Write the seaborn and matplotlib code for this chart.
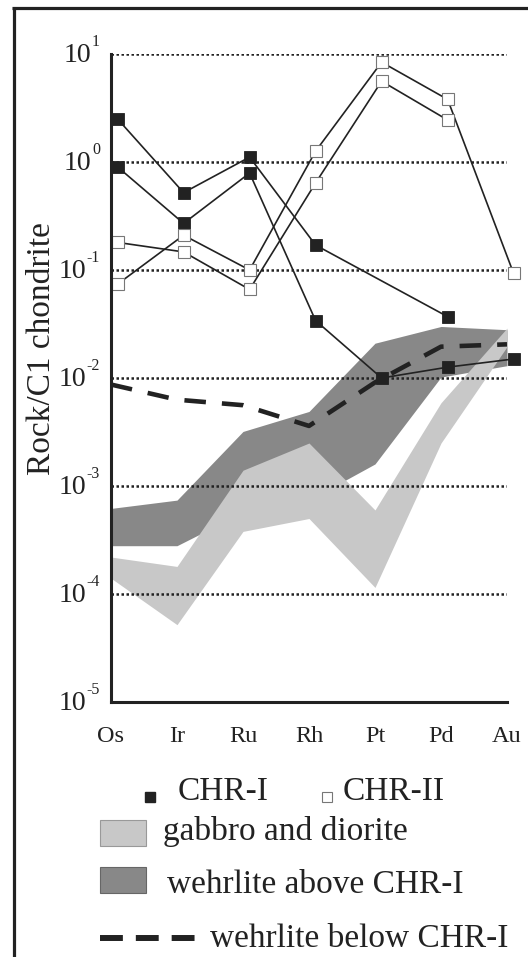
import matplotlib
matplotlib.use("Agg")
import matplotlib.pyplot as plt
from matplotlib.patches import Rectangle
import numpy as np
import pandas as pd
import seaborn as sns

# PGE values normalised to C1 chondrite
ELEMENTS = ["Os", "Ir", "Ru", "Rh", "Pt", "Pd", "Au"]

chr1_a = [2.5, 0.52, 1.11, 0.17, np.nan, 0.037, np.nan]
chr1_b = [0.9, 0.27, 0.79, 0.034, 0.010, 0.0126, 0.015]
chr2_a = [0.074, 0.21, 0.10, 1.26, 8.4, 3.8, 0.093]
chr2_b = [0.18, 0.147, 0.066, 0.64, 5.6, 2.45, np.nan]

wehrlite_below = [0.0087, 0.0063, 0.0056, 0.0036, 0.0091, 0.0195, 0.0205]

gabbro_low = [1.4e-4, 5.2e-5, 3.8e-4, 5.0e-4, 1.15e-4, 2.5e-3, 0.0195]
gabbro_high = [2.2e-4, 1.8e-4, 1.4e-3, 2.5e-3, 6.0e-4, 5.9e-3, 0.029]
wehrlite_low = [2.8e-4, 2.8e-4, 5.7e-4, 7.4e-4, 1.6e-3, 0.0102, 0.013]
wehrlite_high = [6.2e-4, 7.4e-4, 3.2e-3, 4.9e-3, 0.021, 0.030, 0.028]

DECADES = [-5, -4, -3, -2, -1, 0, 1]

INK = "#222222"
LIGHT = "#c8c8c8"
DARK = "#888888"
W, H = 528, 957


def long_frame(series, offset):
    rows = []
    for name, values in series.items():
        for i, v in enumerate(values):
            rows.append({"pos": i + offset, "value": v, "sample": name})
    return pd.DataFrame(rows).dropna()


sns.set_theme(style="white")
plt.rcParams["font.family"] = ["Liberation Serif", "DejaVu Serif"]

fig = plt.figure(figsize=(W / 100, H / 100), dpi=100)
ax = fig.add_axes([111 / W, 1 - 702 / H, 396 / W, 648 / H])

pos = np.arange(len(ELEMENTS))
ax.fill_between(pos, wehrlite_low, wehrlite_high, color=DARK, lw=0, zorder=1)
ax.fill_between(pos, gabbro_low, gabbro_high, color=LIGHT, lw=0, zorder=1.1)

sns.lineplot(x=pos, y=wehrlite_below, color=INK, lw=3.3,
             linestyle=(0, (4.7, 3.5)), ax=ax, zorder=3)

chr1 = long_frame({"a": chr1_a, "b": chr1_b}, 0.1)
chr2 = long_frame({"a": chr2_a, "b": chr2_b}, 0.1)
sns.lineplot(data=chr1, x="pos", y="value", units="sample", estimator=None,
             color=INK, lw=1.2, marker="s", markersize=8,
             markerfacecolor=INK, markeredgecolor=INK, markeredgewidth=0.6,
             ax=ax, zorder=4, clip_on=False)
sns.lineplot(data=chr2, x="pos", y="value", units="sample", estimator=None,
             color=INK, lw=1.2, marker="s", markersize=8,
             markerfacecolor="white", markeredgecolor="#777777", markeredgewidth=0.8,
             ax=ax, zorder=4, clip_on=False)

ax.set_yscale("log")
ax.set_ylim(1e-5, 10)
ax.set_xlim(0, 6)
ax.set_yticks([10.0 ** d for d in DECADES])
ax.set_yticklabels([""] * len(DECADES))
ax.yaxis.set_minor_locator(matplotlib.ticker.NullLocator())
ax.set_xticks(pos)
ax.set_xticklabels(ELEMENTS)
ax.set_xlabel("")
ax.set_ylabel("")

ax.set_axisbelow(False)
ax.grid(axis="y", color=INK, lw=1.8, linestyle=(0, (1, 1.0)))
ax.grid(axis="x", visible=False)
for side in ["top", "right"]:
    ax.spines[side].set_visible(False)
for side in ["left", "bottom"]:
    ax.spines[side].set_color(INK)
    ax.spines[side].set_linewidth(2.2)
    ax.spines[side].set_zorder(5)
ax.tick_params(axis="y", direction="out", length=4.3, width=0.8, color="#888888")
ax.tick_params(axis="x", direction="out", length=4, width=0.8, color="#888888",
               labelsize=17.5, labelcolor=INK, pad=13)
ax.patch.set_visible(False)

# "10" with a small raised exponent, right edge of the exponent near x=100px
fig.canvas.draw()
renderer = fig.canvas.get_renderer()
for d in DECADES:
    exp = ax.annotate(str(d), xy=(0, 10.0 ** d),
                      xycoords=("axes fraction", "data"),
                      xytext=(-11, 12), textcoords="offset pixels",
                      ha="right", va="center", fontsize=11.5, color=INK)
    ew = exp.get_window_extent(renderer).width
    ax.annotate("10", xy=(0, 10.0 ** d), xycoords=("axes fraction", "data"),
                xytext=(-11.5 - ew, -2), textcoords="offset pixels",
                ha="right", va="center", fontsize=20, color=INK)

fig.text(42 / W, 1 - 349 / H, "Rock/C1 chondrite", rotation=90,
         ha="center", va="center", fontsize=24, color=INK)

# overlay in pixel coordinates for the frame and the legend
ov = fig.add_axes([0, 0, 1, 1])
ov.set_xlim(0, W)
ov.set_ylim(H, 0)
ov.axis("off")
ov.patch.set_visible(False)

ov.plot([12, W], [7.5, 7.5], color=INK, lw=2.3, solid_capstyle="butt")
ov.plot([13.5, 13.5], [6.5, H], color=INK, lw=2.3, solid_capstyle="butt")

ov.plot([150], [797], marker="s", ms=6.5, color=INK, mec=INK)
ov.text(178, 800, "CHR-I", fontsize=24, color=INK, va="baseline")
ov.plot([327], [797], marker="s", ms=6.5, mfc="white", mec="#777777", mew=0.8)
ov.text(343, 800, "CHR-II", fontsize=24, color=INK, va="baseline")

ov.add_patch(Rectangle((100, 820), 46, 26, fc=LIGHT, ec="#999999", lw=0.8))
ov.text(163, 840, "gabbro and diorite", fontsize=24, color=INK, va="baseline")
ov.add_patch(Rectangle((100, 867), 46, 26, fc=DARK, ec="#666666", lw=0.8))
ov.text(167, 893, "wehrlite above CHR-I", fontsize=24, color=INK, va="baseline")
ov.plot([100, 196], [938, 938], color=INK, lw=4.3, linestyle=(0, (3.83, 2.17)))
ov.text(210, 947, "wehrlite below CHR-I", fontsize=24, color=INK, va="baseline")

fig.savefig("out.png", dpi=100, facecolor="white")
